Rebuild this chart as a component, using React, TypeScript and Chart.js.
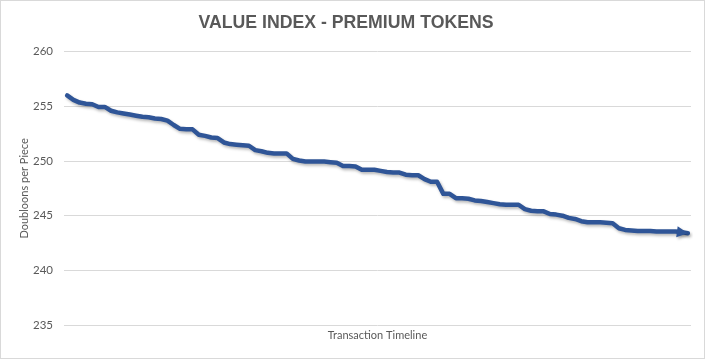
import React, { useEffect, useRef } from "react";
import { Chart, registerables } from "chart.js";

Chart.register(...registerables);

const chartTitle = "VALUE INDEX - PREMIUM TOKENS";
const yAxisTitle = "Doubloons per Piece";
const xAxisTitle = "Transaction Timeline";

const yMin = 235;
const yMax = 260;
const yStep = 5;

const values: number[] = [
  256.0, 255.6, 255.35, 255.25, 255.2, 254.95, 254.95, 254.6, 254.45, 254.35,
  254.25, 254.15, 254.05, 254.0, 253.9, 253.85, 253.7, 253.3, 252.95, 252.9,
  252.9, 252.4, 252.3, 252.15, 252.1, 251.7, 251.55, 251.5, 251.45, 251.4,
  251.0, 250.9, 250.75, 250.7, 250.7, 250.7, 250.2, 250.05, 249.95, 249.95,
  249.95, 249.95, 249.9, 249.85, 249.55, 249.55, 249.5, 249.2, 249.2, 249.2,
  249.1, 249.0, 248.95, 248.95, 248.75, 248.7, 248.7, 248.35, 248.1, 248.1,
  247.0, 247.0, 246.6, 246.6, 246.55, 246.4, 246.35, 246.25, 246.15, 246.05,
  246.0, 246.0, 246.0, 245.6, 245.45, 245.4, 245.4, 245.15, 245.1, 245.0,
  244.8, 244.7, 244.5, 244.4, 244.4, 244.4, 244.35, 244.3, 243.85, 243.7,
  243.65, 243.6, 243.6, 243.6, 243.55, 243.55, 243.55, 243.55, 243.5, 243.4,
];

const labels: string[] = values.map((_, i) => String(i + 1));

const LINE_COLOR = "#2F5597";
const TEXT_COLOR = "#595959";
const GRID_COLOR = "#d9d9d9";
const FONT = "Lato, 'Open Sans', sans-serif";

const shadowArrowPlugin = {
  id: "shadowArrow",
  beforeDatasetsDraw(chart: any) {
    const ctx = chart.ctx;
    ctx.save();
    ctx.shadowColor = "rgba(0,0,0,0.28)";
    ctx.shadowBlur = 3;
    ctx.shadowOffsetX = 1.5;
    ctx.shadowOffsetY = 2;
  },
  afterDatasetsDraw(chart: any) {
    const ctx = chart.ctx;
    const meta = chart.getDatasetMeta(0);
    const pts = meta.data;
    if (pts.length >= 2) {
      const p1 = pts[pts.length - 1];
      const p0 = pts[pts.length - 3] || pts[pts.length - 2];
      const ang = Math.atan2(p1.y - p0.y, p1.x - p0.x);
      const len = 11;
      const half = 5.5;
      const bx = p1.x - len * Math.cos(ang);
      const by = p1.y - len * Math.sin(ang);
      ctx.beginPath();
      ctx.moveTo(p1.x, p1.y);
      ctx.lineTo(bx + half * Math.sin(ang), by - half * Math.cos(ang));
      ctx.lineTo(bx - half * Math.sin(ang), by + half * Math.cos(ang));
      ctx.closePath();
      ctx.fillStyle = LINE_COLOR;
      ctx.fill();
    }
    ctx.restore();
  },
};

export default function App() {
  const canvasRef = useRef<HTMLCanvasElement | null>(null);

  useEffect(() => {
    const canvas = canvasRef.current;
    if (!canvas) return;
    const chart = new Chart(canvas, {
      type: "line",
      data: {
        labels,
        datasets: [
          {
            data: values,
            borderColor: LINE_COLOR,
            backgroundColor: LINE_COLOR,
            borderWidth: 4.5,
            pointRadius: 0,
            pointHoverRadius: 0,
            tension: 0,
            borderJoinStyle: "round",
            borderCapStyle: "round",
            fill: false,
          },
        ],
      },
      options: {
        responsive: false,
        animation: false,
        devicePixelRatio: 1,
        layout: { padding: { left: 0, right: 13, top: 0, bottom: 0 } },
        plugins: {
          legend: { display: false },
          tooltip: { enabled: false },
          title: {
            display: true,
            text: chartTitle,
            color: TEXT_COLOR,
            font: { family: "'Liberation Sans', Arial, sans-serif", size: 17.7, weight: "bold" },
            padding: { top: 11.5, bottom: 18 },
          },
        },
        scales: {
          x: {
            type: "category",
            offset: true,
            grid: { display: false, drawTicks: false },
            border: { display: false },
            ticks: { display: false },
            title: {
              display: true,
              text: xAxisTitle,
              color: TEXT_COLOR,
              font: { family: FONT, size: 11 },
              padding: { top: 0, bottom: 16.4 },
            },
            afterFit: (s: any) => {
              s.height = 33;
            },
          },
          y: {
            min: yMin,
            max: yMax,
            grid: { color: GRID_COLOR, lineWidth: 1, drawTicks: false },
            border: { display: false },
            ticks: {
              stepSize: yStep,
              color: TEXT_COLOR,
              font: { family: FONT, size: 11.5 },
              padding: 11,
            },
            title: {
              display: true,
              text: yAxisTitle,
              color: TEXT_COLOR,
              font: { family: FONT, size: 11 },
              padding: { top: 17, bottom: 0 },
            },
            afterFit: (s: any) => {
              s.width = 63;
            },
          },
        },
      },
      plugins: [shadowArrowPlugin],
    } as any);
    return () => chart.destroy();
  }, []);

  return (
    <div
      style={{
        position: "absolute",
        left: 0,
        top: 0,
        width: 705,
        height: 359,
        border: "1px solid #d9d9d9",
        boxSizing: "border-box",
        background: "#ffffff",
      }}
    >
      <canvas ref={canvasRef} width={703} height={357} style={{ display: "block", width: 703, height: 357 }} />
    </div>
  );
}
